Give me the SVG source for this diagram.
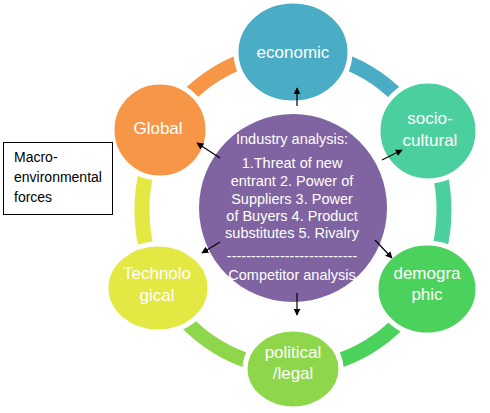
<svg xmlns="http://www.w3.org/2000/svg" width="490" height="413" viewBox="0 0 490 413">
<defs>
<marker id="ah" viewBox="0 0 10 10" refX="9" refY="5" markerWidth="7" markerHeight="7" orient="auto" markerUnits="userSpaceOnUse">
<path d="M0,0 L10,5 L0,10 z" fill="#000"/>
</marker>
<style>
.seg{fill:none;stroke-width:15}
.node{stroke:#fff;stroke-width:5}
.lbl{font-family:"Liberation Sans",Arial,sans-serif;font-size:17px;fill:#fff;text-anchor:middle}
.ctr{font-family:"Liberation Sans",Arial,sans-serif;font-size:14.5px;fill:#fff;text-anchor:middle}
.arr{stroke:#000;stroke-width:1.2;fill:none;marker-end:url(#ah)}
.box{font-family:"Liberation Sans",Arial,sans-serif;font-size:14px;fill:#000}
</style>
</defs>
<rect width="490" height="413" fill="#fff"/>
<g id="cycle-arcs">
<path class="seg" stroke="#4bacc6" d="M293,52 A151,158 0 0 1 423.8,131"/>
<path class="seg" stroke="#4bcf9f" d="M423.8,131 A151,158 0 0 1 423.8,289"/>
<path class="seg" stroke="#4bd25c" d="M423.8,289 A151,158 0 0 1 293,368"/>
<path class="seg" stroke="#8ed74a" d="M293,368 A151,158 0 0 1 162.2,289"/>
<path class="seg" stroke="#e4e843" d="M162.2,289 A151,158 0 0 1 162.2,131"/>
<path class="seg" stroke="#f79646" d="M162.2,131 A151,158 0 0 1 293,52"/>
</g>
<g id="economic">
<ellipse class="node" cx="293" cy="52" rx="57" ry="51" fill="#4bacc6"/>
<text class="lbl" x="293" y="58">economic</text>
</g>
<g id="socio-cultural">
<ellipse class="node" cx="428" cy="131" rx="50" ry="50" fill="#4bcf9f"/>
<text class="lbl" x="430" y="124">socio-</text>
<text class="lbl" x="430" y="146">cultural</text>
</g>
<g id="demographic">
<ellipse class="node" cx="427" cy="289" rx="51" ry="46" fill="#4bd25c"/>
<text class="lbl" x="427" y="279">demogra</text>
<text class="lbl" x="427" y="300">phic</text>
</g>
<g id="political-legal">
<ellipse class="node" cx="293" cy="369" rx="48" ry="40" fill="#8ed74a"/>
<text class="lbl" x="293" y="358">political</text>
<text class="lbl" x="293" y="379">/legal</text>
</g>
<g id="technological">
<ellipse class="node" cx="158" cy="288" rx="52" ry="44" fill="#e4e843"/>
<text class="lbl" x="157" y="279">Technolo</text>
<text class="lbl" x="157" y="301">gical</text>
</g>
<g id="global">
<ellipse class="node" cx="160" cy="130" rx="48" ry="48" fill="#f79646"/>
<text class="lbl" x="158" y="134">Global</text>
</g>
<g id="center">
<circle cx="293" cy="208" r="94" fill="#8064a2"/>
<text class="ctr" x="292" y="144">Industry analysis:</text>
<text class="ctr" x="292" y="168">1.Threat of new</text>
<text class="ctr" x="292" y="186">entrant 2. Power of</text>
<text class="ctr" x="292" y="204">Suppliers 3. Power</text>
<text class="ctr" x="292" y="221">of Buyers 4. Product</text>
<text class="ctr" x="292" y="238">substitutes 5. Rivalry</text>
<text class="ctr" x="292" y="261">---------------------------</text>
<text class="ctr" x="292" y="280">Competitor analysis</text>
</g>
<g id="macro-box">
<rect x="3.5" y="142.5" width="109" height="72" fill="#fff" stroke="#000" stroke-width="1"/>
<text class="box" x="14" y="162">Macro-</text>
<text class="box" x="14" y="182">environmental</text>
<text class="box" x="14" y="202">forces</text>
</g>
<g id="connectors">
<line class="arr" x1="297" y1="106" x2="297" y2="88"/>
<line class="arr" x1="382" y1="160" x2="402" y2="150"/>
<line class="arr" x1="375" y1="240" x2="392" y2="258"/>
<line class="arr" x1="297" y1="293" x2="297" y2="315"/>
<line class="arr" x1="220" y1="242" x2="202" y2="253"/>
<line class="arr" x1="220" y1="158" x2="197" y2="143"/>
</g>
</svg>
